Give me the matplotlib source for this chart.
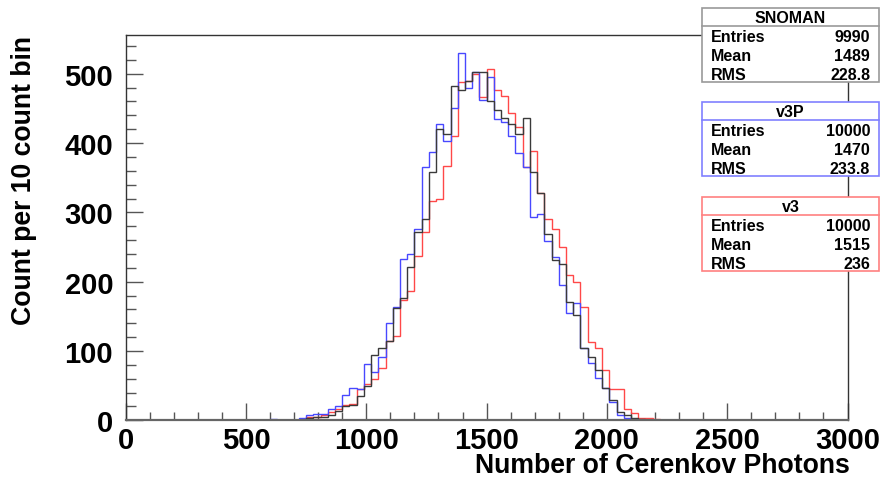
import numpy as np
import matplotlib
matplotlib.use('Agg')
import matplotlib.pyplot as plt
from matplotlib.patches import Rectangle
from matplotlib.lines import Line2D

plt.rcParams['font.family'] = ['Liberation Sans', 'DejaVu Sans']
plt.rcParams['font.weight'] = 'bold'

W, H = 880, 481

# 100 bins of 30 photons between 0 and 3000
edges = np.arange(0, 3001, 30)

# counts per bin, listed from a first non-empty bin index
snoman_first = 19
snoman_counts = [1, 0, 0, 1, 1, 1, 3, 5, 5, 8,
                 13, 20, 22, 35, 50, 94, 104, 115, 162, 177,
                 221, 272, 291, 358, 420, 413, 483, 476, 489, 503,
                 503, 460, 448, 436, 428, 413, 436, 358, 328, 269,
                 231, 225, 171, 152, 104, 91, 72, 46, 30, 12,
                 7, 3, 2, 1]

v3p_first = 20
v3p_counts = [2, 0, 0, 1, 4, 7, 9, 9, 17, 20,
              37, 47, 45, 81, 69, 92, 141, 163, 233, 240,
              276, 366, 387, 428, 403, 450, 530, 480, 503, 462,
              496, 435, 430, 410, 386, 366, 294, 298, 258, 235,
              195, 155, 169, 104, 83, 61, 46, 26, 7, 3,
              1, 1, 0, 0, 0, 1, 0, 0, 0, 0,
              0, 0, 0, 0, 0, 0, 0, 0, 0, 1]

v3_first = 19
v3_counts = [1, 1, 0, 1, 1, 2, 5, 5, 7, 12,
             16, 22, 24, 45, 53, 60, 76, 115, 122, 173,
             186, 237, 272, 316, 319, 367, 410, 488, 490, 500,
             466, 507, 477, 468, 443, 423, 366, 388, 328, 290,
             276, 250, 209, 200, 163, 113, 104, 73, 45, 45,
             17, 11, 4, 3, 2, 1, 0, 1, 0, 1]

names = ['SNOMAN', 'v3P', 'v3']
entries = ['9990', '10000', '10000']
means = ['1489', '1470', '1515']
rms = ['228.8', '233.8', '236']


def full(first, counts):
    h = np.zeros(len(edges) - 1)
    h[first:first + len(counts)] = counts
    return h


fig = plt.figure(figsize=(W / 100, H / 100), dpi=100)
ax = fig.add_axes([125.7 / W, 1 - 421.3 / H, (847.5 - 125.7) / W, (421.3 - 35.6) / H])

ax.stairs(full(v3_first, v3_counts), edges, color='#ff4848', lw=1.0, zorder=2)
ax.stairs(full(v3p_first, v3p_counts), edges, color='#4848ff', lw=1.0, zorder=2)
ax.stairs(full(snoman_first, snoman_counts), edges, color='#3a3a3a', lw=1.0, zorder=2)

ax.set_xlim(0, 3000)
ax.set_ylim(0, 556.5)
ax.set_xticks(np.arange(0, 3001, 500))
ax.set_xticks(np.arange(0, 3001, 100), minor=True)
ax.set_yticks(np.arange(0, 501, 100))
ax.set_yticks(np.arange(0, 556, 20), minor=True)
ax.tick_params(axis='both', which='both', direction='in', color='#555555', labelsize=21)
ax.tick_params(axis='x', which='major', length=12, width=1, pad=4)
ax.tick_params(axis='x', which='minor', length=6, width=1)
ax.tick_params(axis='y', which='major', length=12, width=1, pad=9)
ax.tick_params(axis='y', which='minor', length=7, width=1)
for lab in ax.get_xticklabels() + ax.get_yticklabels():
    lab.set_fontweight('bold')
for s in ax.spines.values():
    s.set_color('#333333')
    s.set_linewidth(1)
    s.set_zorder(3)
ax.spines['bottom'].set_color('#666666')
ax.spines['bottom'].set_linewidth(1.6)

fig.text(850 / W, 1 - 466 / H, 'Number of Cerenkov Photons', ha='right', va='center',
         fontsize=19.2, fontweight='bold')
fig.text(24 / W, 1 - 35.6 / H, 'Count per 10 count bin', ha='center', va='top',
         rotation=90, fontsize=19.2, fontweight='bold')


def px(x, y):
    return x / W, 1 - y / H


box_tops = [9.3, 103.3, 198.3]
box_colors = ['#999999', '#8080ff', '#ff8080']
x0, x1 = 701.7, 879.3
for top, name, ent, mn, rm, col in zip(box_tops, names, entries, means, rms, box_colors):
    bx, by = px(x0, top + 74)
    fig.add_artist(Rectangle((bx, by), (x1 - x0) / W, 74 / H, transform=fig.transFigure,
                             facecolor='white', edgecolor=col, lw=1.2, zorder=5))
    lx0, ly = px(x0, top + 17.4)
    lx1, _ = px(x1, top + 17.4)
    fig.add_artist(Line2D([lx0, lx1], [ly, ly], transform=fig.transFigure, color=col, lw=1.2, zorder=6))
    tx, ty = px((x0 + x1) / 2, top + 9)
    fig.text(tx, ty, name, ha='center', va='center', fontsize=11.5, fontweight='bold', zorder=7)
    for dy, key, val in [(28, 'Entries', ent), (47.4, 'Mean', mn), (66.4, 'RMS', rm)]:
        kx, ky = px(711, top + dy)
        vx, _ = px(870, top + dy)
        fig.text(kx, ky, key, ha='left', va='center', fontsize=11.5, fontweight='bold', zorder=7)
        fig.text(vx, ky, val, ha='right', va='center', fontsize=11.5, fontweight='bold', zorder=7)

fig.savefig('out.png', dpi=100)
